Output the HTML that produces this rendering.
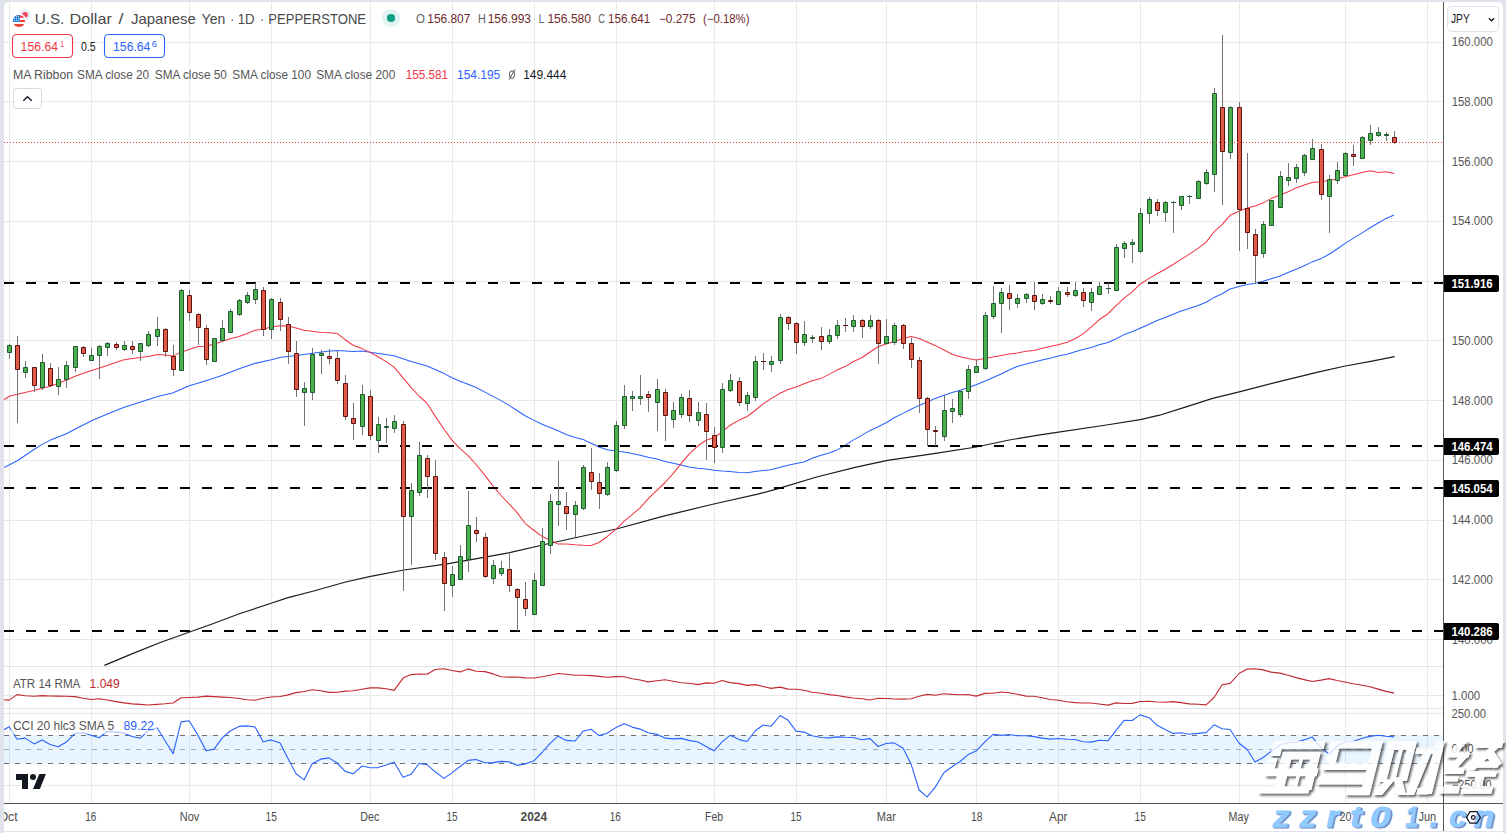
<!DOCTYPE html>
<html><head><meta charset="utf-8"><title>USDJPY</title>
<style>
html,body{margin:0;padding:0;background:#e0e3eb;overflow:hidden}
body{width:1506px;height:833px;font-family:"Liberation Sans",sans-serif}
svg{display:block;position:absolute;left:0;top:0}
text{font-family:"Liberation Sans",sans-serif}
</style></head><body>
<svg width="1506" height="833" viewBox="0 0 1506 833">
<defs>
<clipPath id="mainclip"><rect x="4" y="2" width="1439" height="664.5"/></clipPath>
<clipPath id="plot"><rect x="4" y="2" width="1439" height="829"/></clipPath>
<filter id="sh" x="-10%" y="-10%" width="130%" height="140%"><feDropShadow dx="1.6" dy="1.8" stdDeviation="0.9" flood-color="#000" flood-opacity="0.55"/></filter>
</defs>
<rect x="0" y="0" width="1506" height="833" fill="#e0e3eb"/>
<path d="M4 831V7a5 5 0 0 1 5 -5H1498a5 5 0 0 1 5 5V831Z" fill="#fff"/><rect x="4" y="832" width="1499" height="1" fill="#fff"/>
<g clip-path="url(#plot)">
<path d="M9.5 2V803M91.5 2V803M189.5 2V803M271.5 2V803M370.5 2V803M452.5 2V803M534.5 2V803M616.5 2V803M714.5 2V803M796.5 2V803M886.5 2V803M976.5 2V803M1058.5 2V803M1140.5 2V803M1239.5 2V803M1345.5 2V803M1427.5 2V803M4 639.5H1443M4 579.5H1443M4 520.5H1443M4 460.5H1443M4 400.5H1443M4 340.5H1443M4 281.5H1443M4 221.5H1443M4 161.5H1443M4 101.5H1443M4 42.5H1443M4 695.5H1443M4 713.5H1443M4 785.5H1443" stroke="#e9e9e9" stroke-width="1" fill="none"/>
<path d="M4 666.5H1503M4 708.5H1503" stroke="#e0e3eb" stroke-width="1"/>
<g clip-path="url(#mainclip)">
<path d="M104.4 665.4L133.1 653.4L159.7 642.8L188.9 632.2L212.8 623.7L239.4 613.8L271.2 603.2L287.2 597.9L313.7 591.0L345.6 582.0L370.6 576.4L404.0 570.0L443.9 564.4L470.0 559.8L508.5 552.9L547.0 544.0L585.5 535.5L616.3 529.0L662.6 516.3L713.8 504.0L758.8 493.9L778.1 488.6L816.6 477.0L855.1 467.4L887.5 460.4L932.1 453.9L976.4 447.0L1009.2 440.0L1040.0 434.8L1058.6 432.2L1106.4 425.0L1140.4 419.7L1159.5 415.2L1186.1 406.9L1212.6 398.4L1239.2 391.8L1279.0 381.7L1318.9 371.9L1345.4 366.0L1372.0 361.2L1394.6 356.7" stroke="#1c1c1c" stroke-width="1.2" fill="none" stroke-linejoin="round" />
<path d="M4.0 467.6L17.3 460.7L33.2 450.0L42.5 444.1L50.5 440.1L66.4 433.7L79.7 426.8L91.6 420.8L106.2 414.6L123.5 407.5L146.1 400.2L159.4 396.0L172.6 392.9L188.6 385.9L205.9 380.7L221.9 375.6L237.8 369.3L253.7 363.7L271.3 359.7L280.8 357.3L296.8 355.4L312.7 353.3L325.5 351.4L337.4 350.5L353.3 351.6L362.1 351.1L370.1 352.2L394.0 355.7L411.1 361.6L419.1 363.8L427.1 365.9L435.1 369.6L444.1 373.6L452.1 377.8L460.1 381.3L468.1 384.2L476.1 387.5L485.1 392.1L493.1 396.4L501.1 400.6L509.1 405.4L517.1 410.5L525.1 415.7L534.1 420.4L542.1 424.3L550.1 427.4L558.1 430.7L566.1 434.4L575.1 437.5L583.1 439.4L591.1 443.3L599.1 446.9L607.1 449.7L616.1 451.0L624.1 452.1L632.1 453.5L640.1 455.2L648.1 457.2L657.1 459.0L665.1 461.6L673.1 463.2L681.1 465.1L689.1 467.1L698.1 468.3L706.1 469.1L714.1 470.3L722.1 471.0L730.1 471.5L739.1 472.4L747.1 472.7L755.1 471.6L763.1 470.4L771.1 469.7L780.1 467.3L788.1 465.3L796.1 463.6L804.1 461.9L812.1 458.3L821.1 455.3L829.1 452.9L837.1 449.9L845.1 445.4L853.1 440.1L862.1 435.1L870.1 430.4L878.1 426.8L886.1 422.8L894.1 417.8L903.1 413.4L911.1 409.2L919.1 405.4L927.1 402.1L935.1 398.5L944.1 395.2L952.1 392.5L960.1 390.3L968.1 387.7L976.1 384.7L985.1 380.9L993.1 377.6L1001.1 373.9L1009.1 370.0L1017.1 366.6L1026.1 364.0L1034.1 362.1L1042.1 360.1L1050.1 358.2L1058.1 356.1L1067.1 354.2L1075.1 351.7L1083.1 349.5L1091.1 347.4L1099.1 344.8L1108.1 342.4L1116.1 338.7L1124.1 334.6L1132.1 331.7L1140.1 328.3L1149.1 324.3L1157.1 320.6L1165.1 317.4L1173.1 314.2L1181.1 310.9L1189.1 308.5L1198.1 305.6L1206.1 302.2L1214.1 297.4L1222.1 293.7L1230.1 289.0L1239.1 286.5L1247.1 284.6L1255.1 283.2L1263.1 281.3L1271.1 278.8L1280.1 275.9L1288.1 272.6L1296.1 269.2L1304.1 265.8L1312.1 261.9L1321.1 258.6L1329.1 254.2L1337.1 249.0L1345.1 243.4L1353.1 238.4L1362.1 232.9L1370.1 227.8L1378.1 223.0L1386.1 218.4L1394.1 214.9" stroke="#2962ff" stroke-width="1.05" fill="none" stroke-linejoin="round" />
<path d="M3.8 399.7L9.4 396.2L17.5 394.2L33.6 390.6L50.4 386.2L66.2 380.3L75.7 376.1L91.4 370.4L107.2 365.4L123.0 360.1L132.4 358.5L140.2 357.5L148.2 356.6L157.6 354.5L165.1 354.9L173.1 356.1L181.1 352.1L189.1 349.4L198.1 346.4L206.1 346.3L214.1 344.0L222.1 341.4L230.1 338.7L239.1 336.4L247.1 333.5L255.1 330.2L263.1 329.3L271.1 327.1L280.1 325.7L288.1 326.0L296.1 328.0L304.1 330.3L312.1 331.3L321.1 332.5L329.1 332.8L337.1 333.4L345.1 339.7L353.1 345.2L362.1 348.6L370.1 352.4L378.1 356.7L386.1 361.6L394.1 367.1L403.1 377.9L411.1 387.7L419.1 396.0L427.1 403.3L435.1 416.1L444.1 429.3L452.1 440.4L460.1 448.7L468.1 455.6L476.1 464.5L485.1 475.7L493.1 486.1L501.1 495.5L509.1 503.9L517.1 512.6L525.1 523.3L534.1 530.5L542.1 536.4L550.1 540.1L558.1 544.1L566.1 543.9L575.1 544.7L583.1 545.2L591.1 545.5L599.1 542.5L607.1 536.7L616.1 529.2L624.1 521.2L632.1 514.7L640.1 507.9L648.1 498.9L657.1 490.1L665.1 482.5L673.1 473.7L681.1 463.7L689.1 454.1L698.1 445.7L706.1 440.2L714.1 437.5L722.1 431.9L730.1 425.2L739.1 420.1L747.1 416.5L755.1 410.5L763.1 403.9L771.1 398.6L780.1 393.2L788.1 389.6L796.1 386.9L804.1 383.8L812.1 380.8L821.1 378.4L829.1 374.4L837.1 370.1L845.1 366.6L853.1 361.8L862.1 357.5L870.1 352.0L878.1 346.8L886.1 344.1L894.1 341.4L903.1 338.4L911.1 336.6L919.1 338.5L927.1 341.9L935.1 345.4L944.1 350.0L952.1 354.3L960.1 356.7L968.1 358.5L976.1 359.9L985.1 358.6L993.1 357.0L1001.1 355.4L1009.1 354.0L1017.1 352.9L1026.1 351.3L1034.1 350.4L1042.1 348.2L1050.1 346.4L1058.1 344.7L1067.1 342.3L1075.1 338.8L1083.1 333.9L1091.1 327.1L1099.1 319.8L1108.1 313.7L1116.1 305.6L1124.1 298.2L1132.1 291.9L1140.1 284.2L1149.1 278.4L1157.1 273.8L1165.1 269.3L1173.1 264.5L1181.1 259.4L1189.1 254.4L1198.1 248.4L1206.1 242.1L1214.1 231.7L1222.1 224.7L1230.1 215.3L1239.1 211.3L1247.1 207.9L1255.1 206.0L1263.1 202.9L1271.1 198.6L1280.1 195.0L1288.1 191.7L1296.1 187.9L1304.1 185.0L1312.1 182.5L1321.1 181.7L1329.1 180.5L1337.1 179.0L1345.1 176.8L1353.1 174.8L1362.1 172.6L1370.1 170.7L1378.1 172.6L1386.1 171.8L1394.1 173.5" stroke="#f23645" stroke-width="1.05" fill="none" stroke-linejoin="round" />
</g>
<path d="M4 283H1443" stroke="#000" stroke-width="2" stroke-dasharray="10 12"/>
<path d="M4 446H1443" stroke="#000" stroke-width="2" stroke-dasharray="10 12"/>
<path d="M4 488H1443" stroke="#000" stroke-width="2" stroke-dasharray="10 12"/>
<path d="M4 631H1443" stroke="#000" stroke-width="2" stroke-dasharray="10 12"/>
<path d="M9.5 344V359M17.5 336V423M25.5 361V378M34.5 367V392M42.5 354V390M50.5 363V387M58.5 367V395M66.5 361V388M75.5 346V372M83.5 346V357M91.5 348V361M99.5 345V379M107.5 342V356M116.5 342V350M124.5 341V351M132.5 341V354M140.5 343V361M148.5 331V347M157.5 317V346M165.5 328V357M173.5 345V376M181.5 289V371M189.5 290V321M198.5 313V345M206.5 325V365M214.5 338V362M222.5 320V342M230.5 309V333M239.5 299V316M247.5 292V304M255.5 283V304M263.5 287V336M271.5 298V339M280.5 298V331M288.5 317V364M296.5 341V397M304.5 382V426M312.5 348V400M321.5 350V374M329.5 349V364M337.5 350V384M345.5 375V420M353.5 403V440M362.5 385V435M370.5 390V440M378.5 417V453M386.5 418V443M394.5 415V433M403.5 421V591M411.5 483V565M419.5 442V496M427.5 455V498M435.5 460V560M444.5 552V611M452.5 566V597M460.5 545V580M468.5 491V572M476.5 517V542M485.5 533V578M493.5 560V584M501.5 561V576M509.5 554V592M517.5 588V631M525.5 582V616M534.5 573V615M542.5 528V586M550.5 494V554M558.5 461V526M566.5 492V530M575.5 501V537M583.5 465V510M591.5 448V490M599.5 473V509M607.5 462V496M616.5 421V472M624.5 385V429M632.5 391V411M640.5 375V405M648.5 391V412M657.5 379V431M665.5 389V441M673.5 402V428M681.5 394V418M689.5 390V422M698.5 402V426M706.5 403V460M714.5 427V463M722.5 383V453M730.5 374V392M739.5 377V406M747.5 392V411M755.5 356V401M763.5 353V370M771.5 356V372M780.5 314V364M788.5 316V330M796.5 322V354M804.5 321V346M812.5 335V343M821.5 327V350M829.5 329V344M837.5 320V339M845.5 318V332M853.5 315V332M862.5 319V338M870.5 315V329M878.5 319V364M886.5 319V344M894.5 323V345M903.5 324V349M911.5 338V368M919.5 357V413M927.5 397V446M935.5 426V446M944.5 395V441M952.5 399V423M960.5 391V417M968.5 365V399M976.5 360V373M985.5 312V370M993.5 286V319M1001.5 288V333M1009.5 285V310M1017.5 294V308M1026.5 293V303M1034.5 282V310M1042.5 294V305M1050.5 296V304M1058.5 287V305M1067.5 287V297M1075.5 282V297M1083.5 288V307M1091.5 288V311M1099.5 282V295M1108.5 283V294M1116.5 244V291M1124.5 241V258M1132.5 239V263M1140.5 208V253M1149.5 197V224M1157.5 199V216M1165.5 201V222M1173.5 201V233M1181.5 196V210M1189.5 195V204M1198.5 180V199M1206.5 169V185M1214.5 88V192M1222.5 35V205M1230.5 106V159M1239.5 102V251M1247.5 153V249M1255.5 229V284M1263.5 221V258M1271.5 200V226M1280.5 171V208M1288.5 163V186M1296.5 164V183M1304.5 154V176M1312.5 139V160M1321.5 144V200M1329.5 175V233M1337.5 162V184M1345.5 152V176M1353.5 145V166M1362.5 136V159M1370.5 125V145M1378.5 127V137M1386.5 132V141M1394.5 131V144" stroke="#737375" stroke-width="1" fill="none"/>
<path d="M7.5 345.5H11.5V352.5H7.5ZM23.5 367.5H27.5V372.5H23.5ZM40.5 362.5H44.5V387.5H40.5ZM56.5 379.5H60.5V386.5H56.5ZM64.5 365.5H68.5V379.5H64.5ZM73.5 346.5H77.5V367.5H73.5ZM89.5 355.5H93.5V360.5H89.5ZM97.5 346.5H101.5V355.5H97.5ZM105.5 343.5H109.5V347.5H105.5ZM122.5 345.5H126.5V349.5H122.5ZM138.5 343.5H142.5V351.5H138.5ZM146.5 334.5H150.5V345.5H146.5ZM155.5 329.5H159.5V336.5H155.5ZM179.5 290.5H183.5V370.5H179.5ZM212.5 338.5H216.5V361.5H212.5ZM220.5 328.5H224.5V340.5H220.5ZM228.5 311.5H232.5V332.5H228.5ZM237.5 300.5H241.5V314.5H237.5ZM245.5 295.5H249.5V302.5H245.5ZM253.5 289.5H257.5V299.5H253.5ZM269.5 299.5H273.5V329.5H269.5ZM302.5 388.5H306.5V392.5H302.5ZM310.5 354.5H314.5V392.5H310.5ZM319.5 353.5H323.5V355.5H319.5ZM360.5 394.5H364.5V426.5H360.5ZM376.5 424.5H380.5V440.5H376.5ZM384.5 426.5H388.5V427.5H384.5ZM392.5 421.5H396.5V428.5H392.5ZM409.5 490.5H413.5V516.5H409.5ZM417.5 455.5H421.5V492.5H417.5ZM450.5 574.5H454.5V585.5H450.5ZM458.5 556.5H462.5V579.5H458.5ZM466.5 525.5H470.5V559.5H466.5ZM491.5 565.5H495.5V578.5H491.5ZM499.5 568.5H503.5V573.5H499.5ZM532.5 580.5H536.5V614.5H532.5ZM540.5 541.5H544.5V585.5H540.5ZM548.5 501.5H552.5V545.5H548.5ZM556.5 501.5H560.5V504.5H556.5ZM573.5 505.5H577.5V514.5H573.5ZM581.5 467.5H585.5V508.5H581.5ZM605.5 467.5H609.5V494.5H605.5ZM614.5 425.5H618.5V470.5H614.5ZM622.5 396.5H626.5V425.5H622.5ZM630.5 396.5H634.5V398.5H630.5ZM638.5 396.5H642.5V398.5H638.5ZM655.5 389.5H659.5V402.5H655.5ZM671.5 410.5H675.5V419.5H671.5ZM679.5 397.5H683.5V414.5H679.5ZM696.5 412.5H700.5V420.5H696.5ZM720.5 389.5H724.5V447.5H720.5ZM728.5 380.5H732.5V390.5H728.5ZM745.5 395.5H749.5V403.5H745.5ZM753.5 361.5H757.5V397.5H753.5ZM769.5 361.5H773.5V364.5H769.5ZM778.5 317.5H782.5V360.5H778.5ZM802.5 334.5H806.5V342.5H802.5ZM810.5 337.5H814.5V338.5H810.5ZM827.5 335.5H831.5V341.5H827.5ZM835.5 325.5H839.5V335.5H835.5ZM851.5 320.5H855.5V326.5H851.5ZM868.5 320.5H872.5V326.5H868.5ZM884.5 336.5H888.5V343.5H884.5ZM892.5 325.5H896.5V342.5H892.5ZM942.5 410.5H946.5V436.5H942.5ZM950.5 408.5H954.5V411.5H950.5ZM958.5 391.5H962.5V414.5H958.5ZM966.5 369.5H970.5V391.5H966.5ZM974.5 366.5H978.5V372.5H974.5ZM983.5 315.5H987.5V368.5H983.5ZM991.5 303.5H995.5V316.5H991.5ZM999.5 292.5H1003.5V303.5H999.5ZM1015.5 298.5H1019.5V303.5H1015.5ZM1024.5 294.5H1028.5V298.5H1024.5ZM1040.5 299.5H1044.5V303.5H1040.5ZM1056.5 291.5H1060.5V304.5H1056.5ZM1073.5 290.5H1077.5V295.5H1073.5ZM1089.5 292.5H1093.5V302.5H1089.5ZM1097.5 286.5H1101.5V294.5H1097.5ZM1114.5 247.5H1118.5V290.5H1114.5ZM1122.5 243.5H1126.5V248.5H1122.5ZM1130.5 242.5H1134.5V244.5H1130.5ZM1138.5 213.5H1142.5V251.5H1138.5ZM1147.5 199.5H1151.5V213.5H1147.5ZM1163.5 202.5H1167.5V212.5H1163.5ZM1179.5 196.5H1183.5V205.5H1179.5ZM1196.5 181.5H1200.5V198.5H1196.5ZM1204.5 172.5H1208.5V183.5H1204.5ZM1212.5 93.5H1216.5V174.5H1212.5ZM1228.5 107.5H1232.5V152.5H1228.5ZM1261.5 224.5H1265.5V253.5H1261.5ZM1269.5 200.5H1273.5V225.5H1269.5ZM1278.5 176.5H1282.5V207.5H1278.5ZM1286.5 177.5H1290.5V180.5H1286.5ZM1294.5 167.5H1298.5V178.5H1294.5ZM1302.5 155.5H1306.5V172.5H1302.5ZM1310.5 148.5H1314.5V159.5H1310.5ZM1327.5 179.5H1331.5V196.5H1327.5ZM1335.5 170.5H1339.5V180.5H1335.5ZM1343.5 153.5H1347.5V175.5H1343.5ZM1360.5 137.5H1364.5V158.5H1360.5ZM1368.5 133.5H1372.5V140.5H1368.5ZM1376.5 132.5H1380.5V135.5H1376.5ZM1384.5 134.5H1388.5V135.5H1384.5Z" fill="#4caf50" stroke="#1f5a2e" stroke-width="1"/>
<path d="M15.5 345.5H19.5V369.5H15.5ZM32.5 367.5H36.5V385.5H32.5ZM48.5 368.5H52.5V385.5H48.5ZM81.5 347.5H85.5V353.5H81.5ZM114.5 344.5H118.5V347.5H114.5ZM130.5 346.5H134.5V349.5H130.5ZM163.5 329.5H167.5V351.5H163.5ZM171.5 356.5H175.5V369.5H171.5ZM187.5 295.5H191.5V312.5H187.5ZM196.5 314.5H200.5V327.5H196.5ZM204.5 328.5H208.5V359.5H204.5ZM261.5 290.5H265.5V329.5H261.5ZM278.5 302.5H282.5V319.5H278.5ZM286.5 324.5H290.5V351.5H286.5ZM294.5 353.5H298.5V389.5H294.5ZM327.5 356.5H331.5V358.5H327.5ZM335.5 358.5H339.5V380.5H335.5ZM343.5 383.5H347.5V416.5H343.5ZM351.5 418.5H355.5V423.5H351.5ZM368.5 396.5H372.5V435.5H368.5ZM401.5 424.5H405.5V516.5H401.5ZM425.5 458.5H429.5V476.5H425.5ZM433.5 476.5H437.5V553.5H433.5ZM442.5 557.5H446.5V583.5H442.5ZM474.5 530.5H478.5V533.5H474.5ZM483.5 537.5H487.5V576.5H483.5ZM507.5 569.5H511.5V585.5H507.5ZM515.5 589.5H519.5V597.5H515.5ZM523.5 599.5H527.5V608.5H523.5ZM564.5 506.5H568.5V513.5H564.5ZM589.5 472.5H593.5V481.5H589.5ZM597.5 482.5H601.5V493.5H597.5ZM646.5 394.5H650.5V397.5H646.5ZM663.5 392.5H667.5V415.5H663.5ZM687.5 398.5H691.5V415.5H687.5ZM704.5 414.5H708.5V431.5H704.5ZM712.5 435.5H716.5V447.5H712.5ZM737.5 381.5H741.5V402.5H737.5ZM786.5 317.5H790.5V323.5H786.5ZM794.5 323.5H798.5V342.5H794.5ZM819.5 336.5H823.5V341.5H819.5ZM860.5 320.5H864.5V326.5H860.5ZM876.5 320.5H880.5V343.5H876.5ZM901.5 325.5H905.5V343.5H901.5ZM909.5 343.5H913.5V359.5H909.5ZM917.5 360.5H921.5V398.5H917.5ZM925.5 398.5H929.5V429.5H925.5ZM933.5 430.5H937.5V431.5H933.5ZM1007.5 293.5H1011.5V298.5H1007.5ZM1032.5 295.5H1036.5V301.5H1032.5ZM1048.5 300.5H1052.5V301.5H1048.5ZM1065.5 292.5H1069.5V294.5H1065.5ZM1081.5 292.5H1085.5V300.5H1081.5ZM1155.5 202.5H1159.5V210.5H1155.5ZM1220.5 107.5H1224.5V151.5H1220.5ZM1237.5 107.5H1241.5V209.5H1237.5ZM1245.5 208.5H1249.5V232.5H1245.5ZM1253.5 234.5H1257.5V255.5H1253.5ZM1319.5 149.5H1323.5V194.5H1319.5ZM1351.5 154.5H1355.5V156.5H1351.5ZM1392.5 137.5H1396.5V142.5H1392.5Z" fill="#df5a48" stroke="#5e100c" stroke-width="1"/>
<path d="M1106 288.5H1111M1171 202.5H1176M1187 196.5H1192" fill="none" stroke="#1f5a2e" stroke-width="1"/>
<path d="M761 361.5H766M843 325.5H848" fill="none" stroke="#5e100c" stroke-width="1"/>
<path d="M4 142.5H1443" stroke="#d9433a" stroke-width="1" stroke-dasharray="1 2"/>
<path d="M4.0 699.7L9.1 700.1L17.1 694.6L25.1 695.8L34.1 696.2L42.1 695.6L50.1 696.0L58.1 696.1L66.1 696.3L75.1 696.6L83.1 698.2L91.1 699.5L99.1 698.8L107.1 700.0L116.1 701.6L124.1 702.9L132.1 703.9L140.1 704.4L148.1 705.0L157.1 704.4L165.1 703.8L173.1 703.0L181.1 697.8L189.1 697.5L198.1 697.1L206.1 696.1L214.1 696.6L222.1 697.1L230.1 697.5L239.1 698.5L247.1 699.8L255.1 700.3L263.1 698.2L271.1 697.0L280.1 696.5L288.1 694.9L296.1 692.6L304.1 691.5L312.1 689.8L321.1 690.7L329.1 692.4L337.1 692.3L345.1 691.1L353.1 690.8L362.1 689.3L370.1 687.9L378.1 687.9L386.1 688.8L394.1 690.4L403.1 678.1L411.1 674.6L419.1 674.0L427.1 674.3L435.1 669.5L444.1 668.7L452.1 670.5L460.1 671.9L468.1 668.9L476.1 671.2L485.1 671.6L493.1 673.9L501.1 676.7L509.1 677.1L517.1 677.0L525.1 677.9L534.1 678.0L542.1 676.7L550.1 675.3L558.1 673.5L566.1 674.3L575.1 675.2L583.1 675.2L591.1 675.6L599.1 676.4L607.1 677.3L616.1 676.6L624.1 676.7L632.1 678.8L640.1 680.0L648.1 681.9L657.1 680.8L665.1 679.8L673.1 681.2L681.1 682.7L689.1 683.3L698.1 684.6L706.1 682.9L714.1 683.2L722.1 680.5L730.1 682.6L739.1 683.6L747.1 685.4L755.1 684.6L763.1 686.5L771.1 688.4L780.1 687.1L788.1 689.1L796.1 689.3L804.1 690.2L812.1 692.3L821.1 693.2L829.1 694.6L837.1 695.5L845.1 696.9L853.1 698.0L862.1 698.8L870.1 700.0L878.1 698.3L886.1 698.5L894.1 699.0L903.1 699.1L911.1 698.8L919.1 696.2L927.1 694.4L935.1 695.3L944.1 693.8L952.1 694.4L960.1 694.8L968.1 694.5L976.1 696.1L985.1 693.4L993.1 693.3L1001.1 692.0L1009.1 692.7L1017.1 694.3L1026.1 696.1L1034.1 696.2L1042.1 697.7L1050.1 699.5L1058.1 700.3L1067.1 701.7L1075.1 702.6L1083.1 703.0L1091.1 703.0L1099.1 704.0L1108.1 705.1L1116.1 702.9L1124.1 703.5L1132.1 703.4L1140.1 701.5L1149.1 701.3L1157.1 702.0L1165.1 702.3L1173.1 701.6L1181.1 702.6L1189.1 703.9L1198.1 704.3L1206.1 704.9L1214.1 697.5L1222.1 684.7L1230.1 683.4L1239.1 673.5L1247.1 669.1L1255.1 668.7L1263.1 669.9L1271.1 672.1L1280.1 673.1L1288.1 675.3L1296.1 677.6L1304.1 679.6L1312.1 681.5L1321.1 680.1L1329.1 678.6L1337.1 680.5L1345.1 682.0L1353.1 683.7L1362.1 685.2L1370.1 686.7L1378.1 689.1L1386.1 691.4L1394.1 693.1" stroke="#c0282d" stroke-width="1.1" fill="none" stroke-linejoin="round" />
<rect x="4" y="735.0" width="1439" height="29.0" fill="#2196f3" fill-opacity="0.1"/>
<path d="M4 735.5H1443M4 763.5H1443" stroke="#6e7078" stroke-width="1" stroke-dasharray="5 6"/>
<path d="M4 749.5H1443" stroke="#787b86" stroke-width="1" stroke-dasharray="5 6" stroke-opacity="0.6"/>
<path d="M4.0 729.7L9.1 726.7L17.1 739.3L25.1 738.1L34.1 743.9L42.1 739.9L50.1 744.5L58.1 746.7L66.1 742.3L75.1 733.3L83.1 732.7L91.1 735.3L99.1 737.7L107.1 731.5L116.1 732.1L124.1 733.3L132.1 736.5L140.1 738.3L148.1 730.7L157.1 727.7L165.1 740.7L173.1 753.7L181.1 721.9L189.1 720.8L198.1 735.4L206.1 750.7L214.1 749.1L222.1 738.1L230.1 731.0L239.1 726.4L247.1 725.9L255.1 727.0L263.1 741.8L271.1 739.9L280.1 743.1L288.1 758.7L296.1 773.8L304.1 779.9L312.1 763.8L321.1 759.1L329.1 757.9L337.1 763.0L345.1 771.4L353.1 773.8L362.1 766.0L370.1 767.8L378.1 767.6L386.1 765.1L394.1 762.3L403.1 777.3L411.1 774.3L419.1 763.5L427.1 764.6L435.1 771.8L444.1 778.4L452.1 772.6L460.1 766.5L468.1 760.4L476.1 759.5L485.1 762.8L493.1 762.6L501.1 761.4L509.1 761.8L517.1 765.4L525.1 763.9L534.1 760.7L542.1 752.5L550.1 743.3L558.1 736.2L566.1 740.4L575.1 741.0L583.1 731.2L591.1 729.2L599.1 735.6L607.1 733.3L616.1 727.4L624.1 723.8L632.1 727.1L640.1 729.1L648.1 732.8L657.1 734.4L665.1 738.1L673.1 738.9L681.1 738.4L689.1 740.4L698.1 742.0L706.1 746.6L714.1 750.8L722.1 741.9L730.1 735.3L739.1 739.6L747.1 741.5L755.1 731.0L763.1 725.0L771.1 726.2L780.1 715.5L788.1 720.3L796.1 731.1L804.1 732.1L812.1 735.7L821.1 737.5L829.1 737.9L837.1 736.9L845.1 737.3L853.1 737.5L862.1 739.8L870.1 738.6L878.1 746.5L886.1 743.5L894.1 742.9L903.1 748.3L911.1 764.2L919.1 790.0L927.1 796.8L935.1 787.4L944.1 772.5L952.1 766.8L960.1 761.5L968.1 754.6L976.1 751.1L985.1 741.6L993.1 734.3L1001.1 735.4L1009.1 734.5L1017.1 735.8L1026.1 735.8L1034.1 736.6L1042.1 738.1L1050.1 739.1L1058.1 738.5L1067.1 739.2L1075.1 739.5L1083.1 741.8L1091.1 742.1L1099.1 740.3L1108.1 740.7L1116.1 730.4L1124.1 720.4L1132.1 720.5L1140.1 714.9L1149.1 717.7L1157.1 725.3L1165.1 729.6L1173.1 733.4L1181.1 732.8L1189.1 734.2L1198.1 733.4L1206.1 732.6L1214.1 724.8L1222.1 728.7L1230.1 729.5L1239.1 743.3L1247.1 749.5L1255.1 762.0L1263.1 757.5L1271.1 751.4L1280.1 744.8L1288.1 742.6L1296.1 742.3L1304.1 739.9L1312.1 736.9L1321.1 747.9L1329.1 754.0L1337.1 746.0L1345.1 742.3L1353.1 741.5L1362.1 738.2L1370.1 736.4L1378.1 735.2L1386.1 736.3L1394.1 736.9" stroke="#2962ff" stroke-width="1.1" fill="none" stroke-linejoin="round" />
</g>
<path d="M1443.5 2V831M4 803.5H1503" stroke="#555" stroke-width="1" fill="none"/>
<!-- flags -->
<g>
<circle cx="25.1" cy="15" r="6" fill="#eaf0fa"/>
<circle cx="25.1" cy="14.7" r="2.8" fill="#f0475c"/>
<circle cx="19" cy="21" r="7.4" fill="#fff"/>
<clipPath id="usc"><circle cx="19" cy="21" r="6.1"/></clipPath>
<g clip-path="url(#usc)">
<rect x="12" y="14" width="14" height="14" fill="#fff"/>
<rect x="12" y="14" width="14" height="3.8" fill="#ef4136"/>
<rect x="12" y="20" width="14" height="2" fill="#ef4136"/>
<rect x="12" y="24" width="14" height="4" fill="#ef4136"/>
<rect x="12" y="14" width="7.8" height="8" fill="#1e80e2"/>
<g fill="#fff" fill-opacity="0.85">
<circle cx="14.6" cy="16.6" r="0.55"/><circle cx="16.6" cy="16.6" r="0.55"/><circle cx="18.6" cy="16.6" r="0.55"/>
<circle cx="14.6" cy="18.6" r="0.55"/><circle cx="16.6" cy="18.6" r="0.55"/><circle cx="18.6" cy="18.6" r="0.55"/>
<circle cx="14.6" cy="20.6" r="0.55"/><circle cx="16.6" cy="20.6" r="0.55"/><circle cx="18.6" cy="20.6" r="0.55"/>
</g></g></g>
<circle cx="391" cy="18" r="9" fill="#dff3f0"/><circle cx="391" cy="18" r="4.1" fill="#0f9d84"/>
<!-- bid / ask -->
<rect x="12.5" y="34.5" width="60" height="23" rx="4" fill="#fff" stroke="#f23645" stroke-width="1.1"/>
<rect x="104.5" y="34.5" width="60" height="23" rx="4" fill="#fff" stroke="#2962ff" stroke-width="1.1"/>
<!-- null symbol -->
<g stroke="#3a3d47" stroke-width="0.9" fill="none"><ellipse cx="512" cy="74.6" rx="2.6" ry="3.9"/><path d="M509.2 79.6L515 69.4"/></g>
<!-- collapse button -->
<rect x="13.5" y="88.5" width="28" height="20" rx="3" fill="#fff" stroke="#d5d8e2" stroke-width="1"/>
<path d="M23.3 100.8L27.5 96.8L31.7 100.8" stroke="#131722" stroke-width="1.4" fill="none"/>
<!-- ATR / CCI legend bg -->
<rect x="11" y="678" width="111" height="14" fill="#fff" fill-opacity="0.6"/>
<rect x="11" y="720" width="146" height="14" fill="#fff" fill-opacity="0.6"/>
<!-- JPY box -->
<rect x="1447.5" y="6.5" width="51" height="25" rx="4" fill="#fff" stroke="#e0e3eb" stroke-width="1"/>
<path d="M1488.9 18.2L1491.5 20.8L1494.1 18.2" stroke="#131722" stroke-width="1.3" fill="none"/>
<!-- TV logo -->
<g stroke="#fff" stroke-width="3" stroke-linejoin="round" fill="#fff">
<path d="M16 774H28V789H22V780H16Z"/><circle cx="33" cy="777" r="3"/><path d="M39.3 774H45.9L39.9 789H33Z"/>
</g>
<g fill="#131722">
<path d="M16 774H28V789H22V780H16Z"/><circle cx="33" cy="777" r="3"/><path d="M39.3 774H45.9L39.9 789H33Z"/>
</g>

<g font-weight="bold" font-style="italic" font-size="29.2" fill="#7486c4" stroke="#7486c4" stroke-width="0.8"><text x="1274.26" y="827.8" textLength="16.87" lengthAdjust="spacingAndGlyphs">z</text><text x="1301.14" y="827.8" textLength="16.69" lengthAdjust="spacingAndGlyphs">z</text><text x="1328.00" y="827.8" textLength="12.67" lengthAdjust="spacingAndGlyphs">r</text><text x="1351.46" y="827.8" textLength="12.05" lengthAdjust="spacingAndGlyphs">t</text><text x="1371.43" y="827.8" textLength="20.67" lengthAdjust="spacingAndGlyphs">0</text><text x="1406.70" y="827.8" textLength="13.31" lengthAdjust="spacingAndGlyphs">1</text><text x="1430.90" y="827.8" textLength="9.19" lengthAdjust="spacingAndGlyphs">.</text><text x="1450.80" y="827.8" textLength="16.94" lengthAdjust="spacingAndGlyphs">c</text><text x="1475.10" y="827.8" textLength="20.98" lengthAdjust="spacingAndGlyphs">n</text></g>
<g font-weight="bold" font-style="italic" font-size="29.2" fill="#8fcaff" stroke="#8fcaff" stroke-width="0.8"><text x="1272.76" y="826.5" textLength="16.87" lengthAdjust="spacingAndGlyphs">z</text><text x="1299.64" y="826.5" textLength="16.69" lengthAdjust="spacingAndGlyphs">z</text><text x="1326.50" y="826.5" textLength="12.67" lengthAdjust="spacingAndGlyphs">r</text><text x="1349.96" y="826.5" textLength="12.05" lengthAdjust="spacingAndGlyphs">t</text><text x="1369.93" y="826.5" textLength="20.67" lengthAdjust="spacingAndGlyphs">0</text><text x="1405.20" y="826.5" textLength="13.31" lengthAdjust="spacingAndGlyphs">1</text><text x="1429.40" y="826.5" textLength="9.19" lengthAdjust="spacingAndGlyphs">.</text><text x="1449.30" y="826.5" textLength="16.94" lengthAdjust="spacingAndGlyphs">c</text><text x="1473.60" y="826.5" textLength="20.98" lengthAdjust="spacingAndGlyphs">n</text></g>
<text x="34.68" y="23.9" font-size="15" fill="#4a4a4a" textLength="29.71" lengthAdjust="spacingAndGlyphs">U.S.</text>
<text x="69.52" y="23.9" font-size="15" fill="#4a4a4a" textLength="42.38" lengthAdjust="spacingAndGlyphs">Dollar</text>
<text x="118.40" y="23.9" font-size="15" fill="#4a4a4a" textLength="5.00" lengthAdjust="spacingAndGlyphs">/</text>
<text x="131.00" y="23.9" font-size="15" fill="#4a4a4a" textLength="64.84" lengthAdjust="spacingAndGlyphs">Japanese</text>
<text x="201.60" y="23.9" font-size="15" fill="#4a4a4a" textLength="23.62" lengthAdjust="spacingAndGlyphs">Yen</text>
<text x="230.13" y="23.9" font-size="15" fill="#4a4a4a" textLength="3.83" lengthAdjust="spacingAndGlyphs">·</text>
<text x="237.72" y="23.9" font-size="15" fill="#4a4a4a" textLength="16.94" lengthAdjust="spacingAndGlyphs">1D</text>
<text x="259.90" y="23.9" font-size="15" fill="#4a4a4a" textLength="4.00" lengthAdjust="spacingAndGlyphs">·</text>
<text x="268.23" y="23.9" font-size="15" fill="#4a4a4a" textLength="97.88" lengthAdjust="spacingAndGlyphs">PEPPERSTONE</text>
<text x="416.00" y="22.8" font-size="12" fill="#5d5d5d" textLength="8.92" lengthAdjust="spacingAndGlyphs">O</text>
<text x="427.30" y="22.8" font-size="12" fill="#6e2a2a" textLength="43.08" lengthAdjust="spacingAndGlyphs">156.807</text>
<text x="477.90" y="22.8" font-size="12" fill="#5d5d5d" textLength="7.80" lengthAdjust="spacingAndGlyphs">H</text>
<text x="487.70" y="22.8" font-size="12" fill="#6e2a2a" textLength="43.27" lengthAdjust="spacingAndGlyphs">156.993</text>
<text x="538.80" y="22.8" font-size="12" fill="#5d5d5d" textLength="5.43" lengthAdjust="spacingAndGlyphs">L</text>
<text x="547.40" y="22.8" font-size="12" fill="#6e2a2a" textLength="43.67" lengthAdjust="spacingAndGlyphs">156.580</text>
<text x="598.20" y="22.8" font-size="12" fill="#5d5d5d" textLength="6.64" lengthAdjust="spacingAndGlyphs">C</text>
<text x="608.10" y="22.8" font-size="12" fill="#6e2a2a" textLength="42.08" lengthAdjust="spacingAndGlyphs">156.641</text>
<text x="658.90" y="22.8" font-size="12" fill="#6e2a2a" textLength="36.68" lengthAdjust="spacingAndGlyphs">−0.275</text>
<text x="703.10" y="22.8" font-size="12" fill="#6e2a2a" textLength="46.40" lengthAdjust="spacingAndGlyphs">(−0.18%)</text>
<text x="20.60" y="50.8" font-size="12" fill="#f23645" textLength="37.47" lengthAdjust="spacingAndGlyphs">156.64</text>
<text x="60.40" y="47.4" font-size="9.5" fill="#f23645" textLength="3.49" lengthAdjust="spacingAndGlyphs">1</text>
<text x="81.00" y="50.8" font-size="12" fill="#131722" textLength="14.61" lengthAdjust="spacingAndGlyphs">0.5</text>
<text x="113.10" y="50.8" font-size="12" fill="#2962ff" textLength="37.27" lengthAdjust="spacingAndGlyphs">156.64</text>
<text x="151.80" y="47.4" font-size="9.5" fill="#2962ff" textLength="5.18" lengthAdjust="spacingAndGlyphs">6</text>
<text x="12.90" y="78.7" font-size="12" fill="#555" textLength="60.18" lengthAdjust="spacingAndGlyphs">MA Ribbon</text>
<text x="77.10" y="78.7" font-size="12" fill="#555" textLength="71.98" lengthAdjust="spacingAndGlyphs">SMA close 20</text>
<text x="154.80" y="78.7" font-size="12" fill="#555" textLength="72.08" lengthAdjust="spacingAndGlyphs">SMA close 50</text>
<text x="232.30" y="78.7" font-size="12" fill="#555" textLength="78.68" lengthAdjust="spacingAndGlyphs">SMA close 100</text>
<text x="316.20" y="78.7" font-size="12" fill="#555" textLength="79.08" lengthAdjust="spacingAndGlyphs">SMA close 200</text>
<text x="405.70" y="78.7" font-size="12" fill="#f23645" textLength="42.38" lengthAdjust="spacingAndGlyphs">155.581</text>
<text x="457.10" y="78.7" font-size="12" fill="#2962ff" textLength="43.08" lengthAdjust="spacingAndGlyphs">154.195</text>
<text x="523.20" y="78.7" font-size="12" fill="#131722" textLength="43.08" lengthAdjust="spacingAndGlyphs">149.444</text>
<text x="12.90" y="687.9" font-size="12" fill="#555" textLength="67.40" lengthAdjust="spacingAndGlyphs">ATR 14 RMA</text>
<text x="89.60" y="687.9" font-size="12" fill="#c0282d" textLength="30.17" lengthAdjust="spacingAndGlyphs">1.049</text>
<text x="12.90" y="729.7" font-size="12" fill="#555" textLength="101.28" lengthAdjust="spacingAndGlyphs">CCI 20 hlc3 SMA 5</text>
<text x="123.50" y="729.7" font-size="12" fill="#2962ff" textLength="30.57" lengthAdjust="spacingAndGlyphs">89.22</text>
<text x="1451.00" y="23" font-size="13" fill="#131722" textLength="18.74" lengthAdjust="spacingAndGlyphs">JPY</text>
<text x="-1.30" y="820.5" font-size="12" fill="#4a4a4a" textLength="18.83" lengthAdjust="spacingAndGlyphs">Oct</text>
<text x="85.30" y="820.5" font-size="12" fill="#4a4a4a" textLength="11.03" lengthAdjust="spacingAndGlyphs">16</text>
<text x="179.70" y="820.5" font-size="12" fill="#4a4a4a" textLength="19.60" lengthAdjust="spacingAndGlyphs">Nov</text>
<text x="265.50" y="820.5" font-size="12" fill="#4a4a4a" textLength="11.32" lengthAdjust="spacingAndGlyphs">15</text>
<text x="360.30" y="820.5" font-size="12" fill="#4a4a4a" textLength="19.00" lengthAdjust="spacingAndGlyphs">Dec</text>
<text x="446.50" y="820.5" font-size="12" fill="#4a4a4a" textLength="11.03" lengthAdjust="spacingAndGlyphs">15</text>
<text x="520.60" y="820.5" font-size="12" fill="#4a4a4a" font-weight="bold" textLength="26.48" lengthAdjust="spacingAndGlyphs">2024</text>
<text x="609.70" y="820.5" font-size="12" fill="#4a4a4a" textLength="11.13" lengthAdjust="spacingAndGlyphs">16</text>
<text x="705.10" y="820.5" font-size="12" fill="#4a4a4a" textLength="17.92" lengthAdjust="spacingAndGlyphs">Feb</text>
<text x="790.50" y="820.5" font-size="12" fill="#4a4a4a" textLength="11.03" lengthAdjust="spacingAndGlyphs">15</text>
<text x="876.80" y="820.5" font-size="12" fill="#4a4a4a" textLength="19.10" lengthAdjust="spacingAndGlyphs">Mar</text>
<text x="970.90" y="820.5" font-size="12" fill="#4a4a4a" textLength="11.52" lengthAdjust="spacingAndGlyphs">18</text>
<text x="1049.10" y="820.5" font-size="12" fill="#4a4a4a" textLength="18.40" lengthAdjust="spacingAndGlyphs">Apr</text>
<text x="1134.50" y="820.5" font-size="12" fill="#4a4a4a" textLength="11.32" lengthAdjust="spacingAndGlyphs">15</text>
<text x="1228.60" y="820.5" font-size="12" fill="#4a4a4a" textLength="20.20" lengthAdjust="spacingAndGlyphs">May</text>
<text x="1339.60" y="820.5" font-size="12" fill="#4a4a4a" textLength="11.81" lengthAdjust="spacingAndGlyphs">20</text>
<text x="1418.40" y="820.5" font-size="12" fill="#4a4a4a" textLength="17.72" lengthAdjust="spacingAndGlyphs">Jun</text>
<text x="1451.70" y="644.1" font-size="12" fill="#555" textLength="41.09" lengthAdjust="spacingAndGlyphs">140.000</text>
<text x="1451.70" y="584.1" font-size="12" fill="#555" textLength="41.09" lengthAdjust="spacingAndGlyphs">142.000</text>
<text x="1451.70" y="524.1" font-size="12" fill="#555" textLength="41.09" lengthAdjust="spacingAndGlyphs">144.000</text>
<text x="1451.70" y="464.1" font-size="12" fill="#555" textLength="41.09" lengthAdjust="spacingAndGlyphs">146.000</text>
<text x="1451.70" y="405.1" font-size="12" fill="#555" textLength="41.09" lengthAdjust="spacingAndGlyphs">148.000</text>
<text x="1451.70" y="345.1" font-size="12" fill="#555" textLength="41.09" lengthAdjust="spacingAndGlyphs">150.000</text>
<text x="1451.70" y="285.1" font-size="12" fill="#555" textLength="41.09" lengthAdjust="spacingAndGlyphs">152.000</text>
<text x="1451.70" y="225.1" font-size="12" fill="#555" textLength="41.09" lengthAdjust="spacingAndGlyphs">154.000</text>
<text x="1451.70" y="166.1" font-size="12" fill="#555" textLength="41.09" lengthAdjust="spacingAndGlyphs">156.000</text>
<text x="1451.70" y="106.1" font-size="12" fill="#555" textLength="41.09" lengthAdjust="spacingAndGlyphs">158.000</text>
<text x="1451.70" y="46.1" font-size="12" fill="#555" textLength="41.09" lengthAdjust="spacingAndGlyphs">160.000</text>
<text x="1451.50" y="699.5" font-size="12" fill="#555" textLength="28.59" lengthAdjust="spacingAndGlyphs">1.000</text>
<text x="1451.50" y="717.6" font-size="12" fill="#555" textLength="34.39" lengthAdjust="spacingAndGlyphs">250.00</text>
<text x="1451.50" y="753.1" font-size="12" fill="#555" textLength="22.19" lengthAdjust="spacingAndGlyphs">0.00</text>
<text x="1452.00" y="789.4" font-size="12" fill="#555" textLength="39.51" lengthAdjust="spacingAndGlyphs">−250.00</text>
<path d="M1444 275H1497a2 2 0 0 1 2 2V290a2 2 0 0 1 -2 2H1444Z" fill="#000"/>
<path d="M1444 438H1497a2 2 0 0 1 2 2V453a2 2 0 0 1 -2 2H1444Z" fill="#000"/>
<path d="M1444 480H1497a2 2 0 0 1 2 2V495a2 2 0 0 1 -2 2H1444Z" fill="#000"/>
<path d="M1444 623H1497a2 2 0 0 1 2 2V638a2 2 0 0 1 -2 2H1444Z" fill="#000"/>
<text x="1451.40" y="288.2" font-size="12" fill="#fff" font-weight="bold" textLength="41.29" lengthAdjust="spacingAndGlyphs">151.916</text>
<text x="1451.40" y="451.2" font-size="12" fill="#fff" font-weight="bold" textLength="41.29" lengthAdjust="spacingAndGlyphs">146.474</text>
<text x="1451.40" y="493.2" font-size="12" fill="#fff" font-weight="bold" textLength="41.29" lengthAdjust="spacingAndGlyphs">145.054</text>
<text x="1451.40" y="636.2" font-size="12" fill="#fff" font-weight="bold" textLength="41.29" lengthAdjust="spacingAndGlyphs">140.286</text>
<!-- watermark -->
<defs><g id="wmg"><path transform="translate(1262,795.5) skewX(-14) translate(0,-54)" d="M-1.8 -0.5h10v14.9h-10zM6 -0.5h44v8.2h-44zM10.8 10.5h37.2v7.6h-37.2zM10 10.5h10.3v41.5h-10.3zM39 10.5h9v38h-9zM-2.2 27h52v7.8h-52zM-4.4 44.9h50.4v7.1h-50.4zM-2.9 16.5h9v10.5h-9zM28.5 18.1h3.5v9h-3.5zM29.5 34.8h3.5v10h-3.5z"/><path transform="translate(1318,795.5) skewX(-14) translate(0,-54)" d="M0.3 -0.5h51v7.4h-51zM-0.8 -0.5h10.5v21.6h-10.5zM-1.9 21.1h46v7.4h-46zM-3.9 35.2h45.7v7.8h-45.7zM42 -0.5h9.5v54.3h-9.5zM26.9 47.1h24v6.7h-24z"/><path transform="translate(1376,795.5) skewX(-14) translate(0,-54)" d="M0.5 -0.5h27v9h-27zM-1.1 -0.5h8v41h-8zM19.3 -0.5h8v40h-8zM11.5 8h4v30h-4zM6 38L15 38L6 53.5L-4 53.5zM13 36L21 36L30 53.5L21 53.5zM28.8 6.2h20v6.3h-20zM46.5 -0.5h9v53h-9zM40 46.5h12v6.5h-12zM36 12.5L44.5 12.5L38 53.5L29.5 53.5z"/><path transform="translate(1440,795.5) skewX(-14) translate(0,-54)" d="M6 -0.5L15 -0.5L5.5 13L-3.5 13zM-3 10h22v6h-22zM11 12L20 12L8 30.5L-1 30.5zM-2 26h20v6.5h-20zM0 35h14v5h-14zM-2 45h20v7h-20zM23 -0.5h27v7h-27zM43 -0.5L52 -0.5L28 29L19 29zM36 14L43 10L54 22L47 27zM28 20h23v6.3h-23zM21 29.5h30v5.7h-30zM30.8 33h9v13h-9zM20 44.5h31v7.8h-31z"/></g>
<filter id="b1" x="-5%" y="-10%" width="110%" height="125%"><feGaussianBlur stdDeviation="0.8"/></filter>
<mask id="wmm" maskUnits="userSpaceOnUse" x="1240" y="730" width="270" height="80"><rect x="1240" y="730" width="270" height="80" fill="#fff"/><use href="#wmg" fill="#000"/></mask></defs>
<g mask="url(#wmm)"><use href="#wmg" fill="#222" fill-opacity="0.7" transform="translate(1.8,2.0)" filter="url(#b1)"/></g>
<use href="#wmg" fill="#fff" fill-opacity="0.8"/>
<!-- hexagon settings icon -->
<g fill="none" stroke="#131722" stroke-width="1.2">
<path d="M1470 811.6H1476.9L1480.4 817.4L1476.9 823.2H1470L1466.5 817.4Z"/>
<circle cx="1473.3" cy="817.5" r="1.9"/>
</g>
<rect x="0" y="805" width="4" height="22" fill="#e0e3eb"/>
</svg>
</body></html>
